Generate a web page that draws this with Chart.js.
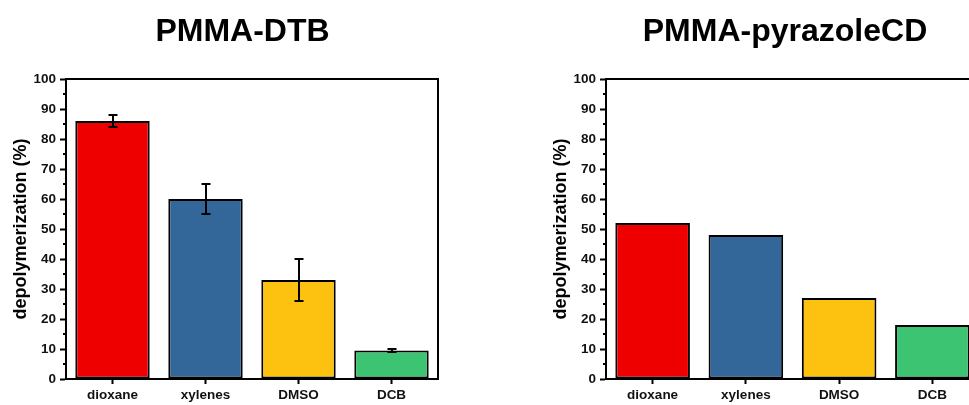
<!DOCTYPE html>
<html>
<head>
<meta charset="utf-8">
<script src="https://cdn.jsdelivr.net/npm/chart.js@4.4.1/dist/chart.umd.min.js"></script>
<style>
  html, body { margin: 0; padding: 0; background: #fff; overflow: hidden; width: 969px; height: 405px; }
  canvas { position: absolute; top: 0; }
  #c1 { left: 0; }
  #c2 { left: 540px; }
</style>
</head>
<body>
<canvas id="c1" width="485" height="405"></canvas>
<canvas id="c2" width="490" height="405"></canvas>
<script>
// ---- data ----
const categories = ['dioxane', 'xylenes', 'DMSO', 'DCB'];
const dtbValues = [86, 60, 33, 9.5];
const dtbErrors = [2, 5, 7, 0.5];
const pyrValues = [52, 48, 27, 18];
const yTicks = [0, 10, 20, 30, 40, 50, 60, 70, 80, 90, 100];
const minorTicks = [5, 15, 25, 35, 45, 55, 65, 75, 85, 95];
const barColors = ['#ee0000', '#336699', '#fdc10f', '#3cc472'];
const titles = ['PMMA-DTB', 'PMMA-pyrazoleCD'];
const yTitle = 'depolymerization (%)';

const FONT = '"Liberation Sans", Arial, sans-serif';

const framePlugin = {
  id: 'frame',
  afterDraw(chart) {
    const { ctx, chartArea: a, scales } = chart;
    ctx.save();
    ctx.strokeStyle = '#000';
    ctx.lineWidth = 2;
    ctx.strokeRect(a.left, a.top, a.right - a.left, a.bottom - a.top);
    // minor ticks
    const y = scales.y;
    ctx.beginPath();
    minorTicks.forEach(v => {
      const py = Math.round(y.getPixelForValue(v));
      ctx.moveTo(a.left, py);
      ctx.lineTo(a.left - 3, py);
    });
    ctx.stroke();
    ctx.restore();
  }
};

const errorBarPlugin = {
  id: 'errorBars',
  afterDatasetsDraw(chart, args, opts) {
    const errs = opts.errors;
    if (!errs) return;
    const { ctx, scales } = chart;
    const meta = chart.getDatasetMeta(0);
    const vals = chart.data.datasets[0].data;
    ctx.save();
    ctx.strokeStyle = '#000';
    ctx.lineWidth = 2;
    meta.data.forEach((bar, i) => {
      const e = errs[i];
      if (e == null) return;
      const x = Math.round(bar.x);
      const yTop = scales.y.getPixelForValue(vals[i] + e);
      const yBot = scales.y.getPixelForValue(vals[i] - e);
      ctx.beginPath();
      ctx.moveTo(x, yTop); ctx.lineTo(x, yBot);
      ctx.moveTo(x - 4.5, yTop); ctx.lineTo(x + 4.5, yTop);
      ctx.moveTo(x - 4.5, yBot); ctx.lineTo(x + 4.5, yBot);
      ctx.stroke();
    });
    ctx.restore();
  }
};

function makeChart(id, title, values, errors, rightPad) {
  return new Chart(document.getElementById(id), {
    type: 'bar',
    data: {
      labels: categories,
      datasets: [{
        data: values,
        backgroundColor: barColors,
        borderColor: '#000',
        borderWidth: 2,
        borderSkipped: false,
        barPercentage: 0.8,
        categoryPercentage: 1.0
      }]
    },
    options: {
      responsive: false,
      animation: false,
      devicePixelRatio: 1,
      layout: { padding: 0 },
      plugins: {
        legend: { display: false },
        tooltip: { enabled: false },
        title: {
          display: true,
          text: title,
          color: '#000',
          font: { family: FONT, size: 32, weight: 'bold', lineHeight: 1.2 },
          padding: { top: 13, bottom: 27.6 }
        },
        errorBars: { errors: errors }
      },
      scales: {
        x: {
          offset: true,
          grid: { drawOnChartArea: false, drawTicks: true, tickLength: 5, tickColor: '#000', tickWidth: 2, offset: false },
          border: { display: true, color: '#000', width: 2 },
          ticks: { color: '#111', padding: 3, maxRotation: 0, font: { family: FONT, size: 13.5, weight: 'bold' } },
          afterFit(scale) { scale.height = 26; }
        },
        y: {
          min: 0, max: 100,
          afterBuildTicks(scale) { scale.ticks = yTicks.map(v => ({ value: v })); },
          grid: { drawOnChartArea: false, drawTicks: true, tickLength: 6, tickColor: '#000', tickWidth: 2 },
          border: { display: true, color: '#000', width: 2 },
          ticks: { color: '#111', padding: 4, font: { family: FONT, size: 13.5, weight: 'bold' } },
          title: {
            display: true,
            text: yTitle,
            color: '#000',
            font: { family: FONT, size: 18, weight: 'bold', lineHeight: 1.2 },
            padding: { top: 10, bottom: 0 }
          },
          afterFit(scale) { scale.width = 66; }
        },
        // empty spacer on the right so the title centres on the whole canvas
        yRight: {
          type: 'linear',
          position: 'right',
          display: true,
          grid: { display: false, drawTicks: false },
          border: { display: false },
          ticks: { display: false },
          afterFit(scale) { scale.width = rightPad; }
        }
      }
    },
    plugins: [framePlugin, errorBarPlugin]
  });
}

makeChart('c1', titles[0], dtbValues, dtbErrors, 47);
makeChart('c2', titles[1], pyrValues, null, 51);
</script>
</body>
</html>
